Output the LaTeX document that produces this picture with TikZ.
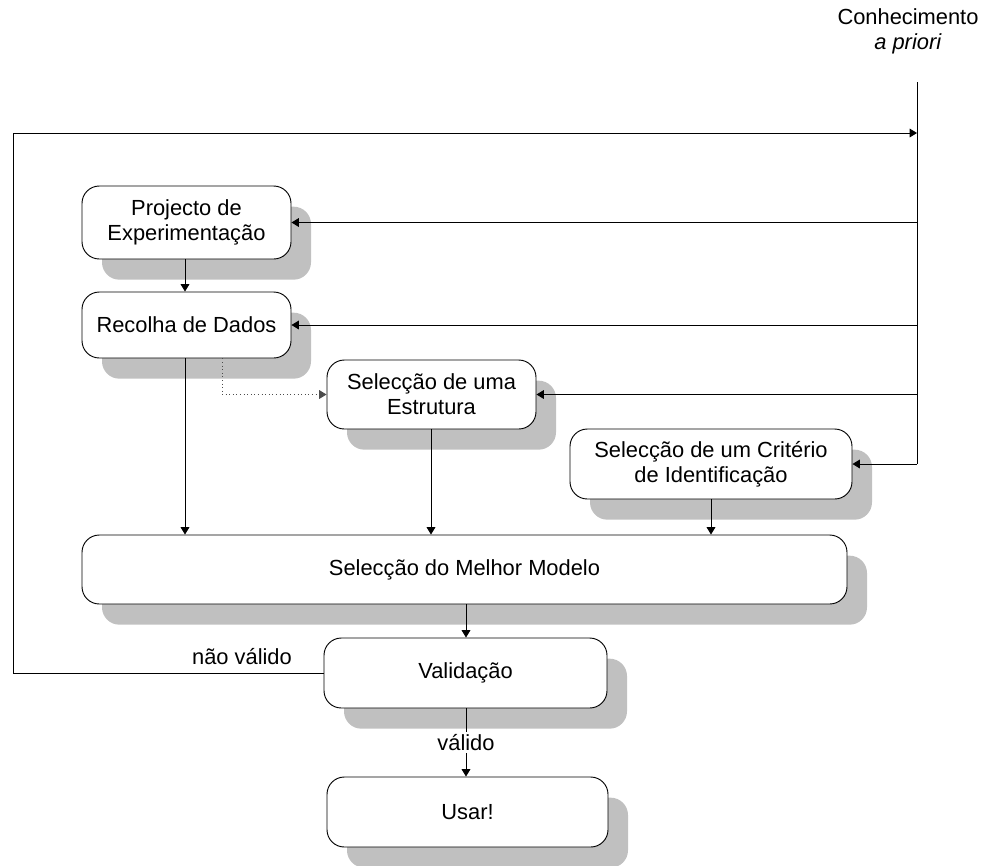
\documentclass[tikz,border=0pt]{standalone}
\usepackage{fontspec}
\setmainfont{Liberation Sans}
\usetikzlibrary{arrows.meta,shadows}
\definecolor{shgray}{RGB}{192,192,192}
\begin{document}
\begin{tikzpicture}[x=0.75pt,y=-0.75pt,
  font=\fontsize{16.4}{18.7}\selectfont,
  stepbox/.style={draw=black,line width=0.7pt,fill=white,rounded corners=13pt,
    align=center,inner sep=0pt,
    drop shadow={shadow xshift=15pt,shadow yshift=-15.5pt,opacity=1,fill=shgray,draw=none}},
  link/.style={line width=0.7pt,-{Triangle[length=5.5pt,width=6.5pt]}},
  plain/.style={line width=0.7pt}]
\useasboundingbox (0,0) rectangle (981,865);

% process steps
\node[stepbox,minimum width=156.75pt,minimum height=54.75pt] (proj) at (186.5,222.5) {Projecto de\\Experimentação};
\node[stepbox,minimum width=156.75pt,minimum height=49.5pt] (rec) at (186.5,325) {Recolha de Dados};
\node[stepbox,minimum width=156.75pt,minimum height=51.75pt] (est) at (431.5,394.5) {Selecção de uma\\Estrutura};
\node[stepbox,minimum width=211.5pt,minimum height=52.5pt] (crit) at (711,464) {Selecção de um Critério\\de Identificação};
\node[stepbox,minimum width=573.75pt,minimum height=51.75pt] (best) at (464.5,569.5) {Selecção do Melhor Modelo};
\node[stepbox,minimum width=212.25pt,minimum height=52.5pt] (val) at (465.5,673) {Validação};
\node[stepbox,minimum width=210.75pt,minimum height=52.5pt] (use) at (467.5,812) {Usar!};

% prior knowledge input
\node[align=center] (prior) at (908,31) {Conhecimento\\\textit{a priori}};
\coordinate (ktop) at (917,82);
\coordinate (kin) at (917,133);
\coordinate (loopl) at (13,133);

\draw[plain] (ktop) -- (ktop |- crit.east);
\draw[link] (ktop |- crit.east) -- (crit.east);
\draw[link] (ktop |- proj.east) -- (proj.east);
\draw[link] (ktop |- rec.east) -- (rec.east);
\draw[link] (ktop |- est.east) -- (est.east);

% main flow
\draw[link] (proj.south -| 185,0) -- (rec.north -| 185,0);
\draw[link] (rec.south -| 185,0) -- (best.north -| 185,0);
\draw[link] (est.south -| 431,0) -- (best.north -| 431,0);
\draw[link] (crit.south -| 711,0) -- (best.north -| 711,0);
\draw[link] (best.south -| 466,0) -- (val.north -| 466,0);
\draw[link] (val.south -| 466,0) -- (use.north -| 466,0)
  node[pos=0.5,fill=white,inner sep=1.5pt] (ok) {válido};
\draw[link,dotted,draw=black!70] (rec.south -| 222,0) |- (est.west);

% feedback when the model is rejected
\draw[link] (val.west) -| (loopl) -- (kin);
\node (nok) at (242,657) {não válido};
\end{tikzpicture}
\end{document}
